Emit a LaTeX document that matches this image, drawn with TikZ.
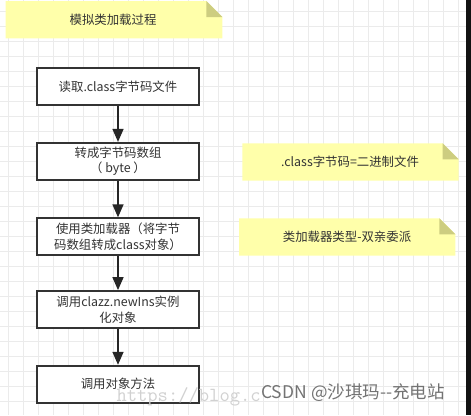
\documentclass[tikz,border=0pt]{standalone}
\usepackage{fontspec}
\setmainfont{Noto Sans CJK SC}
\usetikzlibrary{arrows.meta}
\usetikzlibrary{positioning}
\definecolor{gridgray}{HTML}{EBEBEB}
\definecolor{noteyellow}{HTML}{FFFFAA}
\definecolor{notefold}{HTML}{CDCD80}
\definecolor{boxline}{HTML}{333333}
\definecolor{textgray}{HTML}{333333}

\begin{document}
\begin{tikzpicture}[x=1pt, y=-1pt,
    flowbox/.style={draw=boxline, line width=1.8pt, fill=white, minimum width=162pt,
      minimum height=37pt, align=center, text=textgray, inner sep=2pt,
      font=\fontsize{12.4}{15.5}\selectfont},
    flowarrow/.style={line width=1.5pt, draw=black!85, -{Triangle[length=13pt,width=11pt]}},
    notetext/.style={text=textgray, font=\fontsize{12.4}{15.5}\selectfont}]
    % Canvas with grid
    \useasboundingbox (0,0) rectangle (471,415);
    \fill[white] (0,0) rectangle (471,415);
    \foreach \gx in {8.3,23.3,...,465} \draw[gridgray, line width=1pt] (\gx,0) -- (\gx,415);
    \foreach \gy in {11.7,26.7,...,415} \draw[gridgray, line width=1pt] (0,\gy) -- (466,\gy);
    \fill[black!93] (466,0) rectangle (471,415);

    % Notes
    \fill[noteyellow] (5.7,1) -- (206.3,1) -- (222.3,17) -- (222.3,38.3) -- (5.7,38.3) -- cycle;
    \fill[notefold] (206.3,1) -- (206.3,17) -- (222.3,17) -- cycle;
    \node[notetext] (title) at (113,20) {模拟类加载过程};

    \fill[noteyellow] (242.3,143.3) -- (442.7,143.3) -- (458.7,159.3) -- (458.7,180.7) -- (242.3,180.7) -- cycle;
    \fill[notefold] (442.7,143.3) -- (442.7,159.3) -- (458.7,159.3) -- cycle;
    \node[notetext] (binnote) at (350,162) {.class字节码=二进制文件};

    \fill[noteyellow] (239,218.3) -- (439.3,218.3) -- (455.3,234.3) -- (455.3,255.7) -- (239,255.7) -- cycle;
    \fill[notefold] (439.3,218.3) -- (439.3,234.3) -- (455.3,234.3) -- cycle;
    \node[notetext] (loadnote) at (347,237) {类加载器类型-双亲委派};

    % Steps
    \node[flowbox] (read) at (118,86.3) {读取.class字节码文件};
    \node[flowbox] (bytes) at (118,161.3) {转成字节码数组\\（ byte ）};
    \node[flowbox] (loader) at (118,236.7) {使用类加载器（将字节\\码数组转成class对象）};
    \node[flowbox] (newins) at (118,309.5) {调用clazz.newIns实例\\化对象};
    \node[flowbox] (invoke) at (118,384.2) {调用对象方法};

    % Arrows
    \draw[flowarrow] (read) -- (bytes);
    \draw[flowarrow] (bytes) -- (loader);
    \draw[flowarrow] (loader) -- (newins);
    \draw[flowarrow] (newins) -- (invoke);

    % Watermarks
    \node[anchor=base west, text=black!18, font=\ttfamily\fontsize{20}{20}\selectfont] (url) at (113,401) {https://blog.c};
    \node[text=black!55, font=\fontsize{17.5}{17.5}\selectfont] (csdn) at (353,393) {CSDN @沙琪玛{-}{-}充电站};
\end{tikzpicture}
\end{document}
